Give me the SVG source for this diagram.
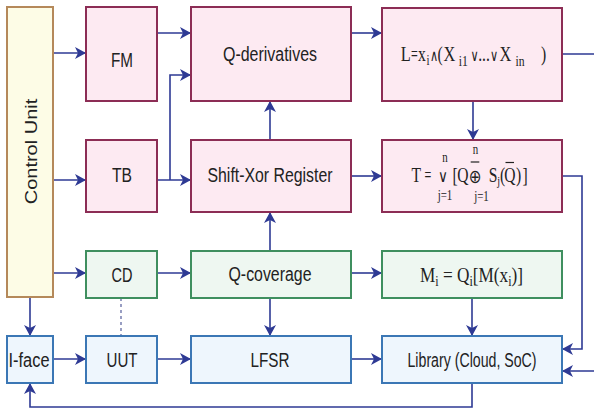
<svg xmlns="http://www.w3.org/2000/svg" width="594" height="410" viewBox="0 0 594 410">
<defs>
<marker id="ah" markerUnits="userSpaceOnUse" markerWidth="12" markerHeight="12" viewBox="0 -6 12 12" refX="11" refY="0" orient="auto">
<path d="M0,-6 L11,0 L0,6 L3,0 Z" fill="#2e3a94"/>
</marker>
<style>
.pink{fill:#fdeaf2;stroke:#8c2d55;stroke-width:2}
.green{fill:#eef7f1;stroke:#3f8f5f;stroke-width:2}
.blue{fill:#eef6fd;stroke:#3b77b5;stroke-width:2}
.cu{fill:#fdfce6;stroke:#b5895a;stroke-width:2}
.lbl{font-family:"Liberation Sans",Arial,sans-serif;font-size:20px;fill:#222;text-anchor:middle}
.f{font-family:"Liberation Serif","Times New Roman",serif;font-size:20px;fill:#222;text-anchor:middle}
.s{font-family:"Liberation Serif","Times New Roman",serif;font-size:14px;fill:#222;text-anchor:middle}
.op{font-family:"DejaVu Sans","Liberation Serif",sans-serif;font-size:16px;fill:#222;text-anchor:middle}
.bar{stroke:#222;stroke-width:1.2}
.ca{fill:none;stroke:#2e3a94;stroke-width:1.6;marker-end:url(#ah)}
.dot{fill:none;stroke:#7f86b4;stroke-width:1.6;stroke-dasharray:3 3}
</style>
</defs>

<g id="connectors">
<path class="ca" d="M53,53 H86"/>
<path class="ca" d="M53,180 H86"/>
<path class="ca" d="M53,273 H86"/>
<path class="ca" d="M30,297 V336"/>
<path class="ca" d="M157,33 H191"/>
<path class="ca" d="M157,180 H191"/>
<path class="ca" d="M170,180 V75 H191"/>
<path class="ca" d="M351,33 H382"/>
<path class="ca" d="M270,140 V101"/>
<path class="ca" d="M351,176 H382"/>
<path class="ca" d="M473,101 V140"/>
<path class="ca" d="M562,54 H600 V371 H562"/>
<path class="ca" d="M562,176 H582 V349 H562"/>
<path class="ca" d="M157,273 H191"/>
<path class="ca" d="M270,251 V212"/>
<path class="ca" d="M270,298 V336"/>
<path class="ca" d="M351,273 H382"/>
<path class="ca" d="M472,298 V336"/>
<path class="ca" d="M53,359 H86"/>
<path class="ca" d="M157,359 H191"/>
<path class="ca" d="M351,359 H382"/>
<path class="ca" d="M472,383 V407 H30 V383"/>
<path class="dot" d="M121,298 V336"/>
</g>

<g id="control-unit">
<rect class="cu" x="7" y="7" width="46" height="290"/>
<text class="lbl" transform="translate(37,151.5) scale(0.78,1) rotate(-90)" x="0" y="0">Control Unit</text>
</g>

<g id="fm">
<rect class="pink" x="86" y="7" width="71" height="94"/>
<text class="lbl" x="122" y="67" textLength="22" lengthAdjust="spacingAndGlyphs">FM</text>
</g>

<g id="tb">
<rect class="pink" x="86" y="140" width="71" height="72"/>
<text class="lbl" x="122" y="182" textLength="20" lengthAdjust="spacingAndGlyphs">TB</text>
</g>

<g id="q-derivatives">
<rect class="pink" x="191" y="7" width="160" height="94"/>
<text class="lbl" x="270" y="61" textLength="94" lengthAdjust="spacingAndGlyphs">Q-derivatives</text>
</g>

<g id="shift-xor">
<rect class="pink" x="191" y="140" width="160" height="72"/>
<text class="lbl" x="270" y="182" textLength="125" lengthAdjust="spacingAndGlyphs">Shift-Xor Register</text>
</g>

<g id="l-box">
<rect class="pink" x="382" y="8" width="180" height="93"/>
<text class="f" transform="translate(405.8,61) scale(0.78,1)" style="font-size:21px">L</text>
<text class="f" transform="translate(414.5,61) scale(0.6,1)">=</text>
<text class="f" transform="translate(422,61) scale(0.78,1)">x</text>
<text class="s" transform="translate(428,64.5) scale(0.78,1)">i</text>
<text class="op" transform="translate(434.2,60.5) scale(0.7,1)">∧</text>
<text class="f" transform="translate(440,61) scale(0.78,1)">(</text>
<text class="f" transform="translate(449.5,61) scale(0.78,1)" style="font-size:21px">X</text>
<text class="s" transform="translate(463.3,66) scale(0.78,1)" style="font-size:15px">i1</text>
<text class="op" transform="translate(474.5,60.5) scale(0.7,1)">∨</text>
<text class="f" transform="translate(484,61) scale(0.78,1)">...</text>
<text class="op" transform="translate(494.2,60.5) scale(0.7,1)">∨</text>
<text class="f" transform="translate(505.3,61) scale(0.78,1)" style="font-size:21px">X</text>
<text class="s" transform="translate(520,66) scale(0.78,1)" style="font-size:15px">in</text>
<text class="f" transform="translate(543.5,61) scale(0.78,1)">)</text>
</g>

<g id="t-box">
<rect class="pink" x="382" y="140" width="180" height="72"/>
<text class="f" transform="translate(416.2,181.5) scale(0.78,1)">T</text>
<text class="f" transform="translate(427.8,181.5) scale(0.6,1)">=</text>
<text class="op" transform="translate(443,181.5) scale(0.8,1)" style="font-size:17px">∨</text>
<text class="s" transform="translate(445,161.5) scale(0.78,1)">n</text>
<text class="s" transform="translate(445,200) scale(0.78,1)">j=1</text>
<text class="f" transform="translate(455,181.5) scale(0.78,1)">[</text>
<text class="f" transform="translate(463,181.5) scale(0.78,1)">Q</text>
<text class="op" transform="translate(475,183) scale(0.8,1)" style="font-size:19px">⊕</text>
<path class="bar" d="M470.7,162 H479.3"/>
<text class="s" transform="translate(475.5,154) scale(0.78,1)">n</text>
<text class="s" transform="translate(481.5,201) scale(0.78,1)">j=1</text>
<text class="f" transform="translate(493,181.5) scale(0.78,1)">S</text>
<text class="s" transform="translate(498.7,185) scale(0.78,1)" style="font-size:13px">j</text>
<text class="f" transform="translate(502.5,181.5) scale(0.78,1)">(</text>
<text class="f" transform="translate(510,181.5) scale(0.78,1)">Q</text>
<path class="bar" d="M505.5,162.5 H514"/>
<text class="f" transform="translate(518.5,181.5) scale(0.78,1)">)</text>
<text class="f" transform="translate(525,181.5) scale(0.78,1)">]</text>
</g>

<g id="cd">
<rect class="green" x="86" y="251" width="71" height="47"/>
<text class="lbl" x="122" y="282" textLength="21" lengthAdjust="spacingAndGlyphs">CD</text>
</g>

<g id="q-coverage">
<rect class="green" x="191" y="251" width="160" height="47"/>
<text class="lbl" x="270" y="281" textLength="83" lengthAdjust="spacingAndGlyphs">Q-coverage</text>
</g>

<g id="m-box">
<rect class="green" x="382" y="251" width="180" height="47"/>
<text class="f" style="text-anchor:start" x="420" y="282" textLength="103" lengthAdjust="spacingAndGlyphs"><tspan>M</tspan><tspan dy="4" font-size="14">i</tspan><tspan dy="-4"> = Q</tspan><tspan dy="4" font-size="14">i</tspan><tspan dy="-4">[M(x</tspan><tspan dy="4" font-size="14">i</tspan><tspan dy="-4">)]</tspan></text>
</g>

<g id="i-face">
<rect class="blue" x="7" y="336" width="46" height="47"/>
<text class="lbl" x="29" y="367" textLength="41" lengthAdjust="spacingAndGlyphs">I-face</text>
</g>

<g id="uut">
<rect class="blue" x="86" y="336" width="71" height="47"/>
<text class="lbl" x="122" y="367" textLength="31" lengthAdjust="spacingAndGlyphs">UUT</text>
</g>

<g id="lfsr">
<rect class="blue" x="191" y="336" width="160" height="47"/>
<text class="lbl" x="270" y="367" textLength="39" lengthAdjust="spacingAndGlyphs">LFSR</text>
</g>

<g id="library">
<rect class="blue" x="382" y="336" width="180" height="47"/>
<text class="lbl" x="472" y="367" textLength="129" lengthAdjust="spacingAndGlyphs">Library (Cloud, SoC)</text>
</g>
</svg>
